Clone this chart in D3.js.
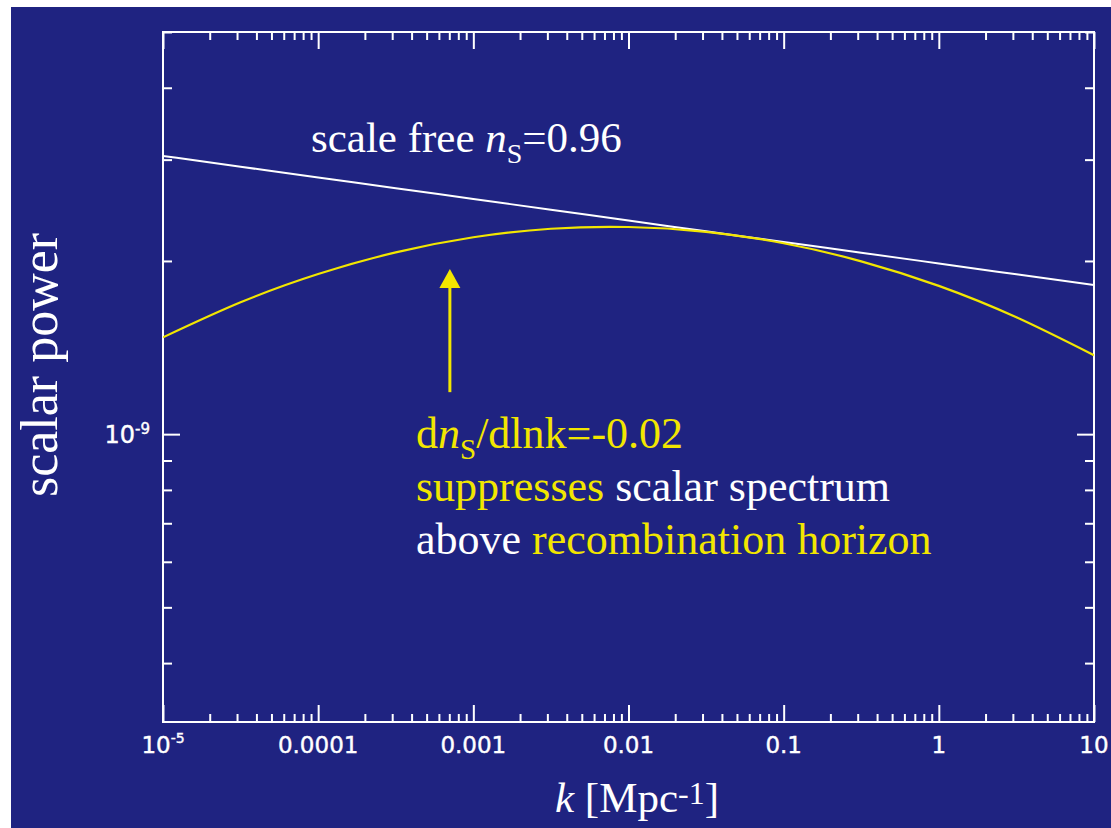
<!DOCTYPE html>
<html><head><meta charset="utf-8">
<script src="https://cdn.jsdelivr.net/npm/d3@7"></script>
<style>body{margin:0;background:#fff;} svg{display:block} .serif, .serif tspan{font-family:"Liberation Serif","Times New Roman",serif;} .sans, .sans tspan{font-family:"DejaVu Sans",sans-serif;}</style>
</head><body>
<svg id="c" width="1111" height="828"></svg>
<script>
// ---- data ----
const kValues = [1e-5, 3.162e-5, 1e-4, 3.162e-4, 1e-3, 3.162e-3, 1e-2, 3.162e-2, 0.1, 0.3162, 1, 3.162, 10];
const scaleFreePower = [3.045e-9, 2.916e-9, 2.793e-9, 2.676e-9, 2.563e-9, 2.455e-9, 2.351e-9, 2.252e-9, 2.157e-9, 2.067e-9, 1.980e-9, 1.896e-9, 1.816e-9];
const runningPower = [1.473e-9, 1.695e-9, 1.898e-9, 2.070e-9, 2.199e-9, 2.275e-9, 2.291e-9, 2.247e-9, 2.147e-9, 1.997e-9, 1.810e-9, 1.596e-9, 1.371e-9];
const xTickValues = [1e-5, 1e-4, 1e-3, 1e-2, 0.1, 1, 10];
const xTickLabels = ["10^-5", "0.0001", "0.001", "0.01", "0.1", "1", "10"];
const yTickValues = [1e-9];
const yTickLabels = ["10^-9"];
const arrowK = 7.06e-4, arrowFrom = 1.183e-9, arrowTo = 1.936e-9;

// ---- styles ----
const BG = "#1f2381", YEL = "#f2e600", WHITE = "#ffffff";

const svg = d3.select("#c");
svg.append("rect").attr("x", 11).attr("y", 7).attr("width", 1100).attr("height", 821).attr("fill", BG);

const L = 163, R = 1094, T = 32, B = 722;
const x = d3.scaleLog().domain([1e-5, 10]).range([L, R]);
const y = d3.scaleLog().domain([3.16e-10, 5e-9]).range([B, T]);

const isDecade = v => Math.abs(Math.log10(v) - Math.round(Math.log10(v))) < 1e-6;
const xMinor = x.ticks().filter(v => !isDecade(v));
const xMajor = x.ticks().filter(v => isDecade(v));
const yMinor = y.ticks().filter(v => !isDecade(v));
const yMajor = y.ticks().filter(v => isDecade(v));

function styleAxis(g) {
  g.select(".domain").remove();
  g.selectAll("line").attr("stroke", WHITE).attr("stroke-width", 2);
  g.selectAll("text").remove();
}
svg.append("g").attr("transform", `translate(0,${B})`).call(d3.axisBottom(x).tickValues(xMinor).tickSize(-8).tickFormat("")).call(styleAxis);
svg.append("g").attr("transform", `translate(0,${B})`).call(d3.axisBottom(x).tickValues(xMajor).tickSize(-17).tickFormat("")).call(styleAxis);
svg.append("g").attr("transform", `translate(0,${T})`).call(d3.axisTop(x).tickValues(xMinor).tickSize(-8).tickFormat("")).call(styleAxis);
svg.append("g").attr("transform", `translate(0,${T})`).call(d3.axisTop(x).tickValues(xMajor).tickSize(-17).tickFormat("")).call(styleAxis);
svg.append("g").attr("transform", `translate(${L},0)`).call(d3.axisLeft(y).tickValues(yMinor).tickSize(-9).tickFormat("")).call(styleAxis);
svg.append("g").attr("transform", `translate(${L},0)`).call(d3.axisLeft(y).tickValues(yMajor).tickSize(-17).tickFormat("")).call(styleAxis);
svg.append("g").attr("transform", `translate(${R},0)`).call(d3.axisRight(y).tickValues(yMinor).tickSize(-9).tickFormat("")).call(styleAxis);
svg.append("g").attr("transform", `translate(${R},0)`).call(d3.axisRight(y).tickValues(yMajor).tickSize(-17).tickFormat("")).call(styleAxis);

svg.append("rect").attr("x", L).attr("y", T).attr("width", R - L).attr("height", B - T)
  .attr("fill", "none").attr("stroke", WHITE).attr("stroke-width", 2);

function writeLabel(t, s, supSize, supDy) {
  const parts = s.split("^");
  t.append("tspan").text(parts[0]);
  if (parts.length > 1) t.append("tspan").attr("font-size", supSize).attr("dy", supDy).text(parts[1]);
}
xTickValues.forEach((v, i) => {
  const t = svg.append("text").attr("class", "sans").attr("x", x(v)).attr("y", 753).attr("text-anchor", "middle")
    .attr("font-size", 23).attr("fill", WHITE).attr("stroke", WHITE).attr("stroke-width", 0.4);
  writeLabel(t, xTickLabels[i], 14, -10);
});
yTickValues.forEach((v, i) => {
  const t = svg.append("text").attr("class", "sans").attr("x", 150).attr("y", y(v) + 9).attr("text-anchor", "end")
    .attr("font-size", 24).attr("fill", WHITE).attr("stroke", WHITE).attr("stroke-width", 0.4);
  writeLabel(t, yTickLabels[i], 15, -9);
});

svg.append("clipPath").attr("id", "pc").append("rect").attr("x", L).attr("y", T).attr("width", R - L).attr("height", B - T);
const line = d3.line().x(d => x(d[0])).y(d => y(d[1])).curve(d3.curveNatural);
svg.append("path").datum(kValues.map((k, i) => [k, scaleFreePower[i]])).attr("d", line)
  .attr("fill", "none").attr("stroke", WHITE).attr("stroke-width", 2).attr("clip-path", "url(#pc)");
svg.append("path").datum(kValues.map((k, i) => [k, runningPower[i]])).attr("d", line)
  .attr("fill", "none").attr("stroke", YEL).attr("stroke-width", 2.2).attr("clip-path", "url(#pc)");

const ax = x(arrowK), ay0 = y(arrowFrom), ay1 = y(arrowTo);
svg.append("line").attr("x1", ax).attr("x2", ax).attr("y1", ay0).attr("y2", ay1 + 15)
  .attr("stroke", YEL).attr("stroke-width", 3);
svg.append("path").attr("d", d3.line()([[ax, ay1], [ax - 10.5, ay1 + 19], [ax + 10.5, ay1 + 19]]) + "Z").attr("fill", YEL);

function serifText(xp, yp, size) {
  return svg.append("text").attr("class", "serif").attr("x", xp).attr("y", yp).attr("font-size", size);
}
let t = serifText(311, 152, 43).attr("fill", WHITE);
t.append("tspan").text("scale free ");
t.append("tspan").attr("font-style", "italic").text("n");
t.append("tspan").attr("font-size", 28).attr("dy", 11).text("S");
t.append("tspan").attr("dy", -11).text("=0.96");

t = serifText(416, 448, 44).attr("fill", YEL);
t.append("tspan").text("d");
t.append("tspan").attr("font-style", "italic").text("n");
t.append("tspan").attr("font-size", 29).attr("dy", 11).text("S");
t.append("tspan").attr("dy", -11).text("/dlnk=-0.02");

t = serifText(416, 501, 44);
t.append("tspan").attr("fill", YEL).text("suppresses ");
t.append("tspan").attr("fill", WHITE).text("scalar spectrum");

t = serifText(416, 554, 44);
t.append("tspan").attr("fill", WHITE).text("above ");
t.append("tspan").attr("fill", YEL).text("recombination horizon");

t = serifText(637, 812, 43).attr("text-anchor", "middle").attr("fill", WHITE);
t.append("tspan").attr("font-style", "italic").text("k");
t.append("tspan").text(" [Mpc");
t.append("tspan").attr("font-size", 32).attr("dy", -8).text("-1");
t.append("tspan").attr("dy", 8).text("]");

svg.append("text").attr("class", "serif").attr("transform", "translate(57,365) rotate(-90)").attr("text-anchor", "middle")
  .attr("font-size", 52).attr("fill", WHITE).text("scalar power");
</script>
</body></html>
